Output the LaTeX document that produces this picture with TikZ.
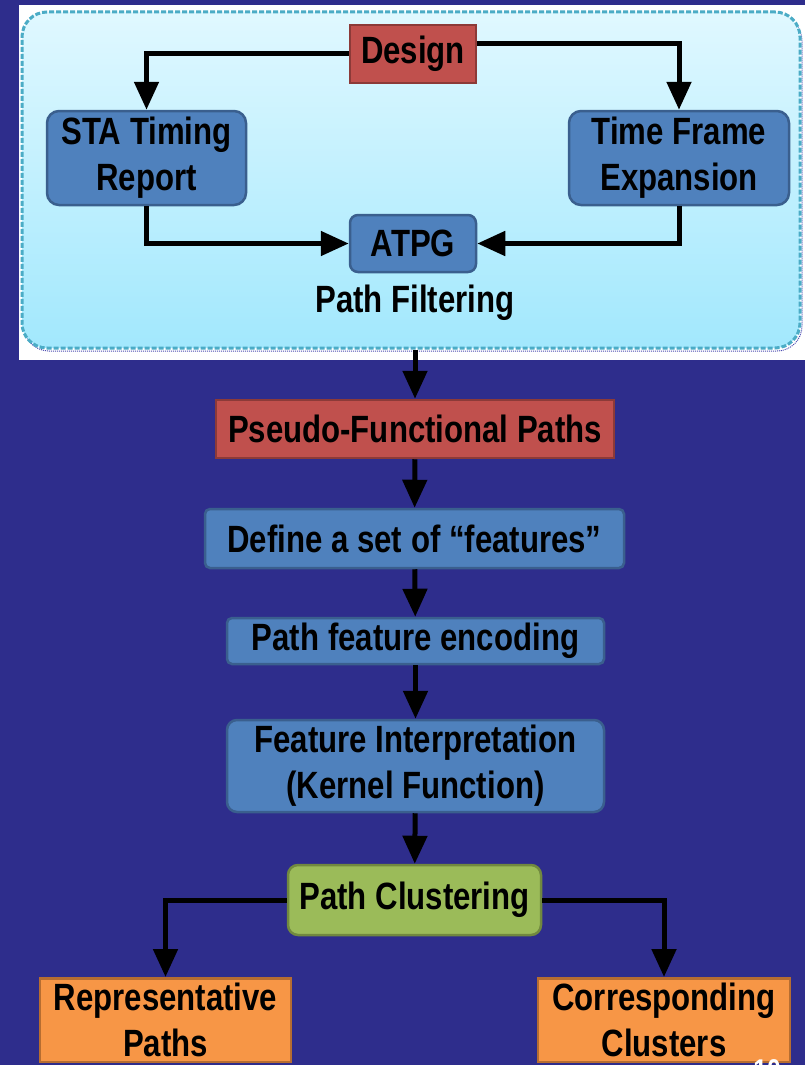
\documentclass[tikz,border=0pt]{standalone}
\usepackage{fontspec}
\usetikzlibrary{arrows.meta}
\newfontfamily\boxfont{Liberation Sans}[FakeStretch=0.82]

\definecolor{slidebg}{HTML}{2E2D8C}
\definecolor{redfill}{HTML}{C0504D}
\definecolor{reddraw}{HTML}{8C3A38}
\definecolor{bluefill}{HTML}{4F81BD}
\definecolor{bluedraw}{HTML}{3A5F8E}
\definecolor{greenfill}{HTML}{9BBB59}
\definecolor{greendraw}{HTML}{71893F}
\definecolor{orangefill}{HTML}{F79646}
\definecolor{orangedraw}{HTML}{B66D31}
\definecolor{dashteal}{HTML}{4BACC6}
\definecolor{skytop}{HTML}{E0F8FF}
\definecolor{skybottom}{HTML}{A2E8FD}

\tikzset{
  box/.style={draw, line width=2.5pt, align=center, inner sep=0pt,
    font=\boxfont\bfseries\fontsize{38}{46}\selectfont, text=black},
  redbox/.style={box, fill=redfill, draw=reddraw},
  bluebox/.style={box, fill=bluefill, draw=bluedraw},
  greenbox/.style={box, fill=greenfill, draw=greendraw},
  orangebox/.style={box, fill=orangefill, draw=orangedraw},
  flow/.style={draw=black, line width=5pt,
    -{Triangle[length=28pt,width=24pt]}},
}

\begin{document}
\begin{tikzpicture}[x=1pt,y=-1pt]
  % slide background
  \fill[slidebg] (0,0) rectangle (805,1065);
  \useasboundingbox (0,0) rectangle (805,1065);
  % white panel behind the filtering stage
  \fill[white] (19,5) rectangle (805,360);

  % path filtering stage
  \draw[densely dotted, line width=1pt, gray!60!blue, rounded corners=25pt]
    (24,16) rectangle (802,351);
  \node[draw=dashteal, line width=3pt, dash pattern=on 5pt off 2pt,
        rounded corners=25pt, top color=skytop, bottom color=skybottom,
        minimum width=778pt, minimum height=336pt, inner sep=0pt]
    (filt) at (411,180) {};

  \node[redbox, minimum width=126pt, minimum height=58pt] (design) at (413,54) {Design};
  \node[bluebox, rounded corners=12pt, minimum width=199pt, minimum height=94pt]
    (sta) at (146.5,158) {STA Timing\\Report};
  \node[bluebox, rounded corners=12pt, minimum width=220pt, minimum height=94pt]
    (tfe) at (679,158) {Time Frame\\Expansion};
  \node[bluebox, rounded corners=8pt, minimum width=126pt, minimum height=57pt]
    (atpg) at (413,243.5) {ATPG};
  \node[font=\boxfont\bfseries\fontsize{38}{44}\selectfont, text=black]
    (pf) at (415,303) {Path Filtering};

  \draw[flow] (design.west) -| (sta.north);
  \draw[flow] ([yshift=10pt]design.east) -| (tfe.north);
  \draw[flow] (sta.south) |- (atpg.west);
  \draw[flow] (tfe.south) |- (atpg.east);

  % main flow
  \node[redbox, minimum width=398pt, minimum height=58pt] (pseudo) at (415,429)
    {Pseudo-Functional Paths};
  \node[bluebox, rounded corners=5pt, minimum width=419pt, minimum height=59pt]
    (define) at (414.5,538.5) {Define a set of “features”};
  \node[bluebox, rounded corners=5pt, minimum width=377pt, minimum height=46pt]
    (encode) at (415.5,641) {Path feature encoding};
  \node[bluebox, rounded corners=10pt, minimum width=377pt, minimum height=92pt]
    (interp) at (415.5,766) {Feature Interpretation\\(Kernel Function)};
  \node[greenbox, rounded corners=10pt, minimum width=253pt, minimum height=70pt]
    (cluster) at (414.5,900) {Path Clustering};
  \node[orangebox, anchor=north, minimum width=251pt, inner ysep=5pt]
    (repr) at (165.5,977) {Representative\\Paths};
  \node[orangebox, anchor=north, minimum width=252pt, inner ysep=5pt]
    (corr) at (664,977) {Corresponding\\Clusters};

  \draw[flow] (filt.south -| pseudo.north) -- (pseudo.north);
  \draw[flow] (pseudo) -- (define);
  \draw[flow] (define) -- (encode);
  \draw[flow] (encode) -- (interp);
  \draw[flow] (interp) -- (cluster);
  \draw[flow] (cluster.west) -| (repr.north);
  \draw[flow] (cluster.east) -| (corr.north);

  % slide number
  \node[anchor=north, text=white, font=\boxfont\bfseries\fontsize{30}{36}\selectfont]
    (pageno) at (767,1056) {10};
\end{tikzpicture}
\end{document}
